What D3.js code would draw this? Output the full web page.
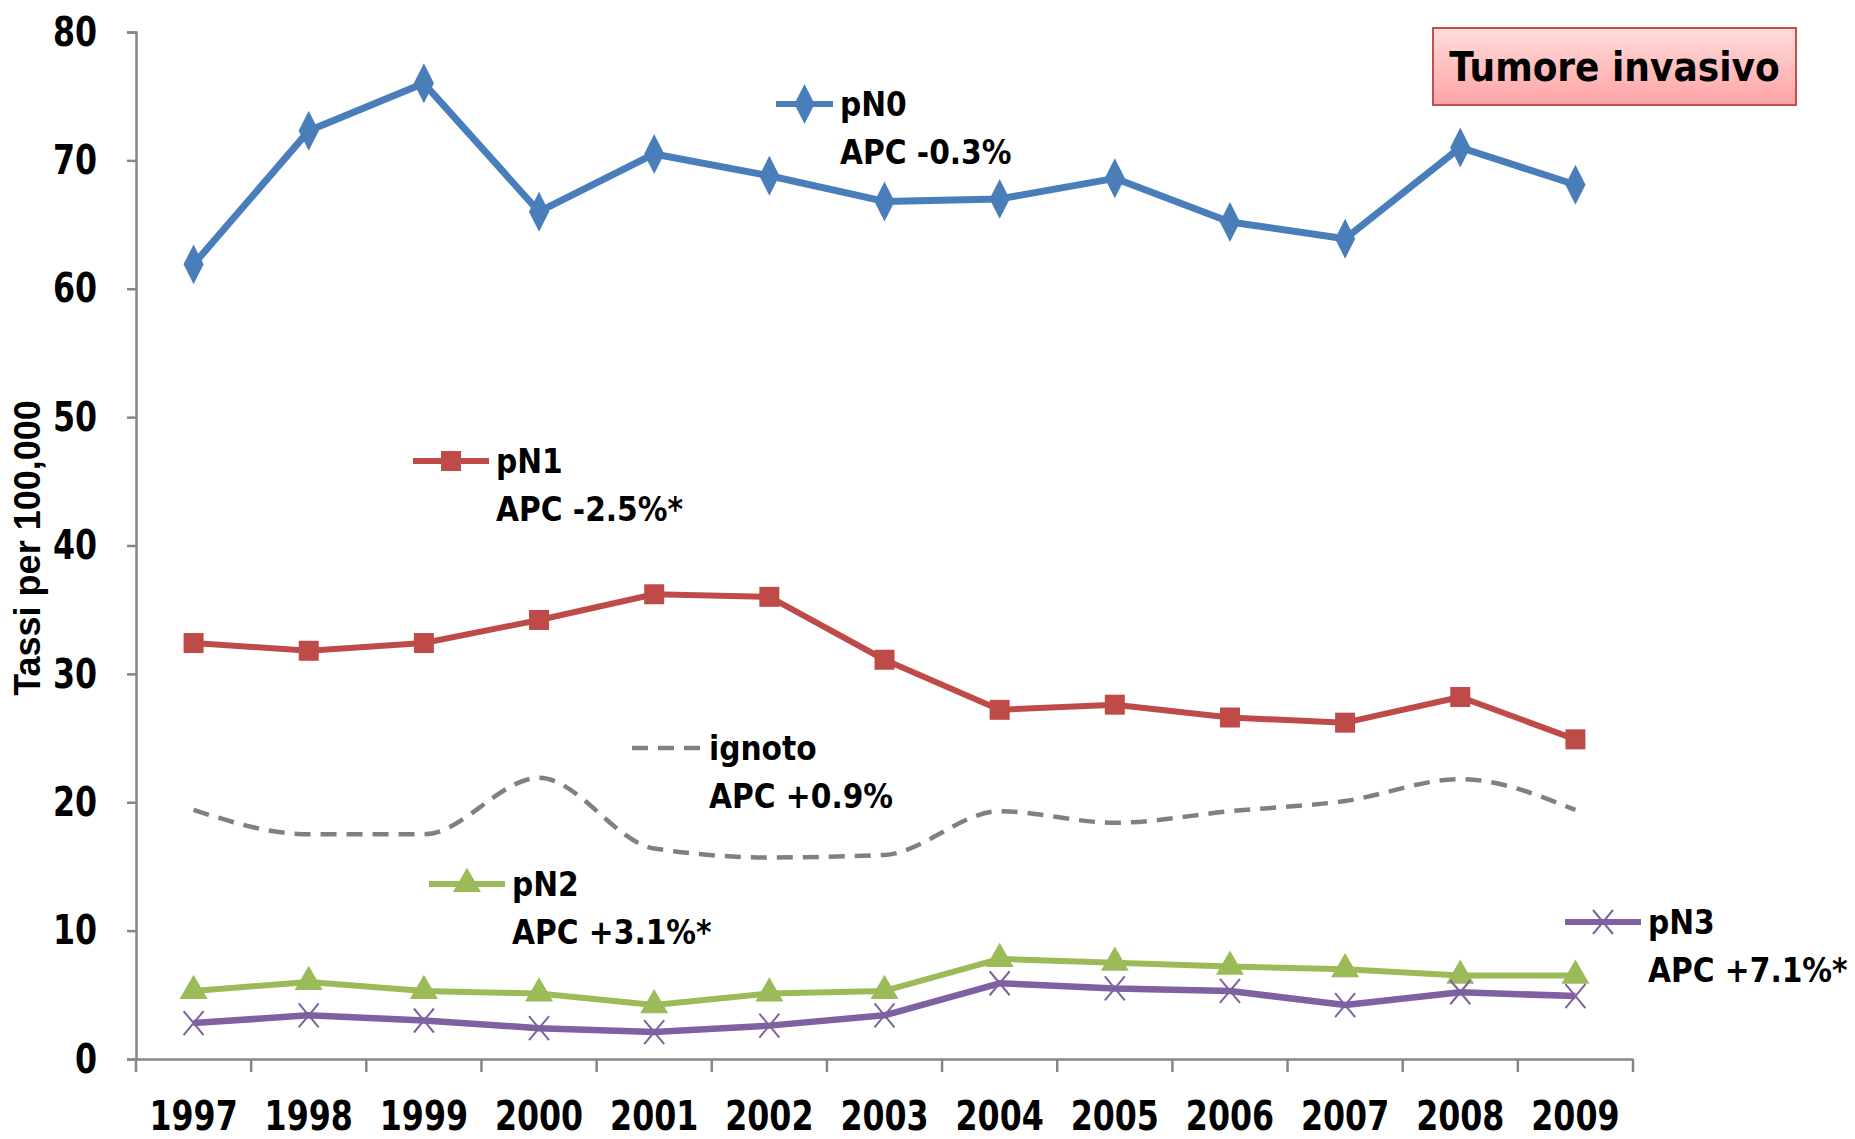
<!DOCTYPE html>
<html>
<head>
<meta charset="utf-8">
<script src="https://cdn.jsdelivr.net/npm/d3@7"></script>
<style>
  body { margin: 0; background: #fff; }
  .cond { font-family: "DejaVu Sans", sans-serif; font-stretch: condensed; font-weight: bold; }
  .axisLabel { font-family: "Liberation Sans", Arial, sans-serif; font-weight: bold; }
</style>
</head>
<body>
<svg class="chart"></svg>
<script>
// data
var years = ["1997","1998","1999","2000","2001","2002","2003","2004","2005","2006","2007","2008","2009"];
var pN0    = [61.9, 72.3, 76.0, 66.0, 70.5, 68.8, 66.8, 67.0, 68.6, 65.2, 63.9, 71.0, 68.1];
var pN1    = [32.4, 31.8, 32.4, 34.2, 36.2, 36.0, 31.1, 27.2, 27.6, 26.6, 26.2, 28.2, 24.9];
var ignoto = [19.4, 17.5, 17.5, 21.9, 16.4, 15.7, 15.9, 19.3, 18.4, 19.3, 20.1, 21.8, 19.4];
var pN2    = [5.3, 6.0, 5.3, 5.1, 4.2, 5.1, 5.3, 7.8, 7.5, 7.2, 7.0, 6.5, 6.5];
var pN3    = [2.8, 3.4, 3.0, 2.4, 2.1, 2.6, 3.4, 5.9, 5.5, 5.3, 4.2, 5.2, 4.9];
var yTicks = [0, 10, 20, 30, 40, 50, 60, 70, 80];
var seriesNames = ["pN0", "pN1", "ignoto", "pN2", "pN3"];
var seriesApc   = ["APC -0.3%", "APC -2.5%*", "APC +0.9%", "APC +3.1%*", "APC +7.1%*"];

var width = 1855, height = 1139;
var mLeft = 136, mRight = 1633, mTop = 32, mBottom = 1059;
var squeeze = 0.86; // narrow the tick digits a bit

var svg = d3.select(".chart").attr("width", width).attr("height", height);

var x = d3.scaleBand().domain(years).range([mLeft, mRight]);
var y = d3.scaleLinear().domain([0, 80]).range([mBottom, mTop]);

// y axis
var yAxis = svg.append("g")
	.attr("transform", "translate(" + mLeft + ",0)")
	.call(d3.axisLeft(y).tickValues(yTicks).tickSize(9).tickPadding(30));
yAxis.select(".domain").attr("stroke", "#868686").attr("stroke-width", 2.5);
yAxis.selectAll(".tick line").attr("stroke", "#868686").attr("stroke-width", 2.5);
yAxis.selectAll(".tick text").attr("class", "cond").attr("font-size", 41).attr("fill", "#000")
	.attr("x", -39 / squeeze)
	.attr("transform", "scale(" + squeeze + ",1)");

// x axis: labels centred in bands, tick marks on band edges
var xAxis = svg.append("g")
	.attr("transform", "translate(0," + mBottom + ")")
	.call(d3.axisBottom(x).tickSize(0).tickPadding(42));
xAxis.select(".domain").attr("stroke", "#868686").attr("stroke-width", 2.5);
xAxis.selectAll(".tick text").attr("class", "cond").attr("font-size", 41).attr("fill", "#000")
	.attr("transform", "scale(" + squeeze + ",1)");
var edges = years.map(function(d) { return x(d); }).concat([x.range()[1]]);
svg.append("g").selectAll("line").data(edges).enter().append("line")
	.attr("x1", function(d) { return d; }).attr("x2", function(d) { return d; })
	.attr("y1", mBottom).attr("y2", mBottom + 13)
	.attr("stroke", "#868686").attr("stroke-width", 2.5);

// y axis title
svg.append("text")
	.attr("class", "axisLabel")
	.attr("transform", "translate(40,548) rotate(-90)")
	.attr("text-anchor", "middle")
	.attr("font-size", 36)
	.text("Tassi per 100,000");

var cx = function(d, i) { return x(years[i]) + x.bandwidth() / 2; };

function drawLine(vals, color, w, dash, curve) {
	var line = d3.line().x(cx).y(function(d) { return y(d); }).curve(curve || d3.curveLinear);
	svg.append("path").datum(vals)
		.attr("d", line)
		.attr("fill", "none")
		.attr("stroke", color)
		.attr("stroke-width", w)
		.attr("stroke-dasharray", dash || null)
		.attr("stroke-linejoin", "round");
}

function marker(g, type, color, px, py) {
	if (type === "x") {
		var sx = 10, sy = 12;
		g.append("path")
			.attr("d", "M" + (px - sx) + "," + (py - sy) + "L" + (px + sx) + "," + (py + sy) + "M" + (px - sx) + "," + (py + sy) + "L" + (px + sx) + "," + (py - sy))
			.attr("stroke", color).attr("stroke-width", 2).attr("fill", "none");
		return;
	}
	var sym = { diamond: d3.symbolDiamond, square: d3.symbolSquare, triangle: d3.symbolTriangle }[type];
	var size = { diamond: 320, square: 400, triangle: 340 }[type];
	g.append("path")
		.attr("d", d3.symbol().type(sym).size(size)())
		.attr("transform", "translate(" + px + "," + py + ")" + (type === "diamond" ? " scale(1.05,1.2)" : ""))
		.attr("fill", color);
}

function drawMarkers(vals, type, color) {
	var g = svg.append("g");
	vals.forEach(function(d, i) { marker(g, type, color, cx(d, i), y(d)); });
}

drawLine(ignoto, "#808080", 4.5, "16,10", d3.curveMonotoneX);
drawLine(pN0, "#4a7ebb", 7);
drawMarkers(pN0, "diamond", "#4a7ebb");
drawLine(pN1, "#be4b48", 6);
drawMarkers(pN1, "square", "#be4b48");
drawLine(pN2, "#9bbb59", 6);
drawMarkers(pN2, "triangle", "#9bbb59");
drawLine(pN3, "#7f60a0", 6.5);
drawMarkers(pN3, "x", "#7f60a0");

// in-plot legend entries
var legendPos = [[776, 104], [413, 461], [632, 748], [429, 884], [1565, 922]];
var legendLen = [57, 76, 70, 76, 76];
var legendType = ["diamond", "square", null, "triangle", "x"];
var legendColor = ["#4a7ebb", "#be4b48", "#808080", "#9bbb59", "#7f60a0"];
legendPos.forEach(function(p, i) {
	var g = svg.append("g");
	var len = legendLen[i];
	g.append("line")
		.attr("x1", p[0]).attr("x2", p[0] + len)
		.attr("y1", p[1]).attr("y2", p[1])
		.attr("stroke", legendColor[i])
		.attr("stroke-width", i === 2 ? 4.5 : 6)
		.attr("stroke-dasharray", i === 2 ? "16,10" : null);
	if (legendType[i]) marker(g, legendType[i], legendColor[i], p[0] + len / 2, p[1]);
	g.append("text").attr("class", "cond")
		.attr("x", p[0] + len + 7).attr("y", p[1]).attr("dy", "0.35em")
		.attr("font-size", 33).text(seriesNames[i]);
	g.append("text").attr("class", "cond")
		.attr("x", p[0] + len + 7).attr("y", p[1] + 48).attr("dy", "0.35em")
		.attr("font-size", 33).text(seriesApc[i]);
});

// title box
var defs = svg.append("defs");
var grad = defs.append("linearGradient").attr("id", "pink").attr("x1", 0).attr("x2", 0).attr("y1", 0).attr("y2", 1);
grad.append("stop").attr("offset", "0%").attr("stop-color", "#ffdcdc");
grad.append("stop").attr("offset", "100%").attr("stop-color", "#ffa3a3");
svg.append("rect")
	.attr("x", 1433).attr("y", 28).attr("width", 363).attr("height", 77)
	.attr("fill", "url(#pink)").attr("stroke", "#c0504d").attr("stroke-width", 2);
svg.append("text").attr("class", "cond")
	.attr("x", 1433 + 363 / 2).attr("y", 28 + 77 / 2).attr("dy", "0.35em")
	.attr("text-anchor", "middle").attr("font-size", 40)
	.text("Tumore invasivo");
</script>
</body>
</html>
